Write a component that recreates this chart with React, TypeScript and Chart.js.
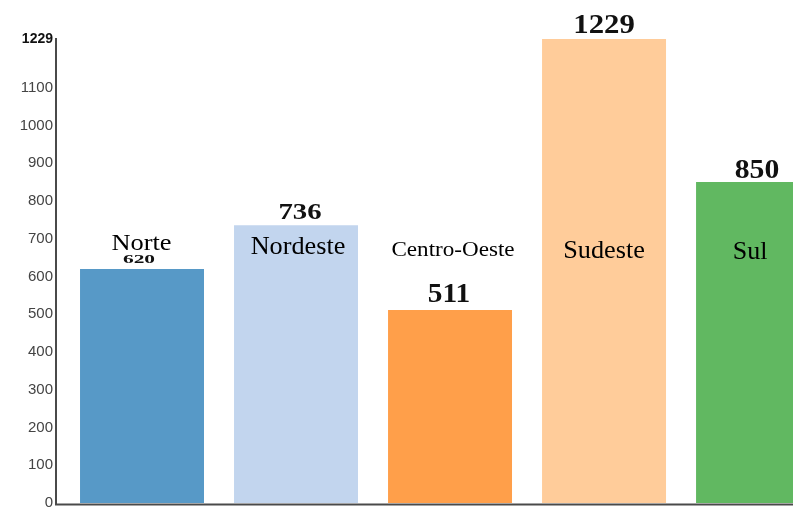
import React, { useEffect, useRef } from "react";
import { Chart, registerables } from "chart.js";

Chart.register(...registerables);

const categories = ["Norte", "Nordeste", "Centro-Oeste", "Sudeste", "Sul"];
const values = [620, 736, 511, 1229, 850];
const yTickValues = [0, 100, 200, 300, 400, 500, 600, 700, 800, 900, 1000, 1100, 1229];
const barColors = ["#5799c7", "#c2d5ee", "#ff9f4a", "#ffcc9a", "#61b861"];

// presentation styles for the annotation texts (not data)
const VALUE_STYLE = [
  { size: 13, sx: 1.65, dx: -3, dy: -6 },
  { size: 23, sx: 1.25, dx: 4, dy: -6 },
  { size: 28, sx: 1.05, dx: -1, dy: -8 },
  { size: 28, sx: 1.1, dx: 0, dy: -6 },
  { size: 27, sx: 1.1, dx: -1, dy: -4 },
];
const NAME_STYLE = [
  { size: 24, sx: 1.1, dx: -0.5, baseline: 250 },
  { size: 25, sx: 1.05, dx: 2, baseline: 254 },
  { size: 21, sx: 1.1, dx: 3, baseline: 256 },
  { size: 25, sx: 1.05, dx: 0, baseline: 258 },
  { size: 26, sx: 1.0, dx: -8, baseline: 259 },
];

const annotationPlugin = {
  id: "annotations",
  afterDatasetsDraw(chart: any) {
    const ctx = chart.ctx as CanvasRenderingContext2D;
    const area = chart.chartArea;
    const meta = chart.getDatasetMeta(0);
    ctx.save();
    // axis lines
    ctx.strokeStyle = "#4a4a4a";
    ctx.lineWidth = 2;
    ctx.beginPath();
    ctx.moveTo(area.left - 1, area.top - 1);
    ctx.lineTo(area.left - 1, area.bottom + 1.5);
    ctx.lineTo(area.right, area.bottom + 1.5);
    ctx.stroke();

    ctx.textAlign = "center";
    ctx.textBaseline = "alphabetic";
    ctx.fillStyle = "#000";
    meta.data.forEach((bar: any, i: number) => {
      const n = NAME_STYLE[i];
      ctx.save();
      ctx.font = `${n.size}px "Liberation Serif", "Times New Roman", serif`;
      ctx.translate(bar.x + n.dx, n.baseline);
      ctx.scale(n.sx, 1);
      ctx.fillText(categories[i], 0, 0);
      ctx.restore();
    });
    meta.data.forEach((bar: any, i: number) => {
      const v = VALUE_STYLE[i];
      ctx.save();
      ctx.font = `bold ${v.size}px "Liberation Serif", "Times New Roman", serif`;
      ctx.fillStyle = "#111";
      ctx.translate(bar.x + v.dx, bar.y + v.dy);
      ctx.scale(v.sx, 1);
      ctx.fillText(String(values[i]), 0, 0);
      ctx.restore();
    });
    ctx.restore();
  },
};

export default function App() {
  const canvasRef = useRef<HTMLCanvasElement | null>(null);

  useEffect(() => {
    document.body.style.margin = "0";
    const canvas = canvasRef.current;
    if (!canvas) return;
    const chart = new Chart(canvas, {
      type: "bar",
      data: {
        datasets: [
          {
            label: "Regiões",
            data: categories.map((_, i) => ({ x: i, y: values[i] })),
            backgroundColor: barColors,
            borderWidth: 0,
            categoryPercentage: 1,
            barPercentage: 0.805,
          },
        ],
      },
      options: {
        responsive: false,
        animation: false,
        devicePixelRatio: 1,
        layout: { padding: { top: 39, bottom: 17, left: 0, right: 0 } },
        plugins: {
          legend: { display: false },
          tooltip: { enabled: false },
        },
        scales: {
          x: {
            type: "linear",
            display: false,
            offset: false,
            min: -0.552,
            max: 4.227,
            afterBuildTicks: (scale: any) => {
              scale.ticks = categories.map((_, i) => ({ value: i }));
            },
          },
          y: {
            type: "linear",
            min: 0,
            max: 1229,
            afterBuildTicks: (scale: any) => {
              scale.ticks = yTickValues.map((v) => ({ value: v }));
            },
            afterFit: (scale: any) => {
              scale.width = 57;
            },
            grid: { display: false, drawTicks: false },
            border: { display: false },
            ticks: {
              padding: 4,
              autoSkip: false,
              color: (ctx: any) => (ctx.tick && ctx.tick.value === 1229 ? "#111" : "#444"),
              font: (ctx: any) =>
                ctx.tick && ctx.tick.value === 1229
                  ? { family: '"Liberation Sans", Arial, sans-serif', size: 14, weight: "bold" }
                  : { family: '"Liberation Sans", Arial, sans-serif', size: 15 },
              callback: (v: any) => String(v),
            },
          },
        },
      },
      plugins: [annotationPlugin],
    } as any);
    return () => chart.destroy();
  }, []);

  return (
    <div style={{ width: 793, height: 507, overflow: "hidden", background: "#fff" }}>
      <canvas ref={canvasRef} width={793} height={520} style={{ display: "block" }} />
    </div>
  );
}
